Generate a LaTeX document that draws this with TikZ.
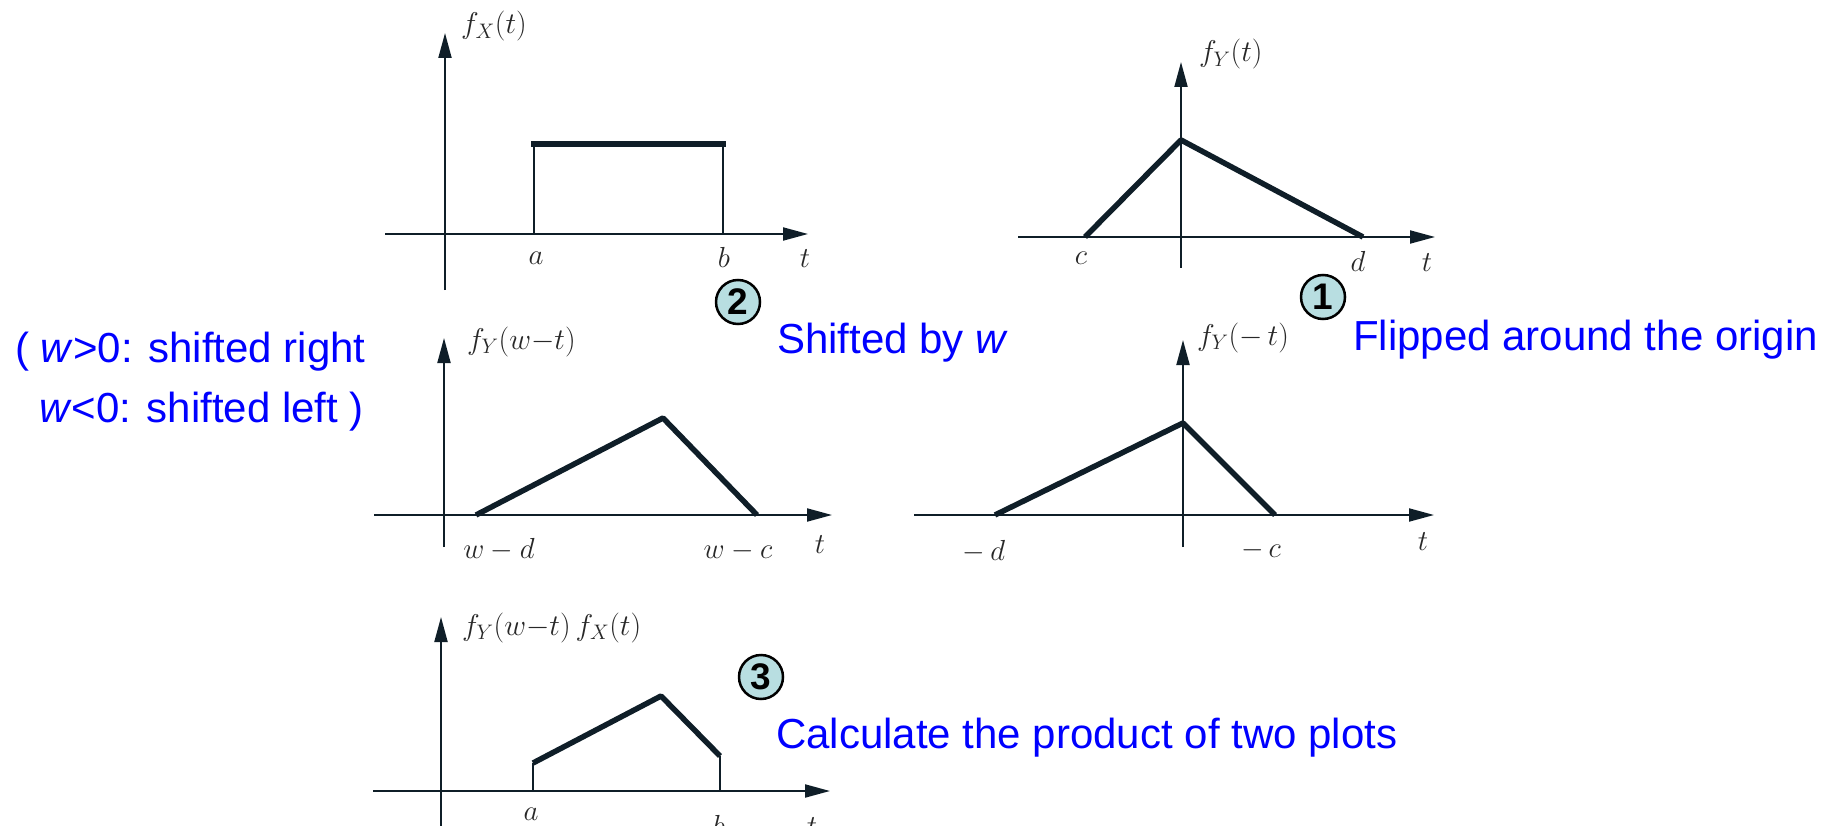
\RequirePackage{fix-cm}
\documentclass[tikz,border=0pt]{standalone}
\usepackage{fontspec}
\setmainfont{Liberation Sans}
\usetikzlibrary{arrows.meta}
\definecolor{ink}{RGB}{15,30,40}
\definecolor{lbl}{RGB}{40,40,40}
\definecolor{bluetxt}{RGB}{0,0,255}
\definecolor{circfill}{RGB}{184,222,225}
\begin{document}
\begin{tikzpicture}[x=1pt,y=-1pt,
  axis/.style={draw=ink,line width=2pt,-{Triangle[length=25pt,width=13pt]}},
  axline/.style={draw=ink,line width=2pt},
  plotline/.style={draw=ink,line width=5.5pt,line join=round},
  mlab/.style={inner sep=0,text=lbl,font=\fontsize{29}{35}\selectfont,anchor=base},
  flab/.style={inner sep=0,text=lbl,font=\fontsize{30}{36}\selectfont,anchor=base west},
  note/.style={inner sep=0,text=bluetxt,font=\fontsize{42}{50}\selectfont,anchor=base west},
  badge/.style={circle,draw=black,line width=2.5pt,fill=circfill,minimum size=44pt,inner sep=0,font=\fontsize{37}{37}\selectfont\bfseries}]
\useasboundingbox (0,0) rectangle (1838,826);

% ---------- panel 1: f_X(t)
\coordinate (p1xl) at (385,234); \coordinate (p1xr) at (808,234);
\coordinate (p1yb) at (445,290); \coordinate (p1yt) at (445,33);
\coordinate (p1a) at (534,234); \coordinate (p1at) at (534,144);
\coordinate (p1b) at (723,234); \coordinate (p1bt) at (723,144);
\draw[axis] (p1xl) -- (p1xr);
\draw[axis] (p1yb) -- (p1yt);
\draw[axline] (p1a) -- (p1at);
\draw[axline] (p1b) -- (p1bt);
\draw[plotline,line cap=rect] (p1at) -- (p1bt);
\node[flab] (l1f) at (461,34) {$f_X(t)$};
\node[mlab] (l1a) at (536,265) {$a$};
\node[mlab] (l1b) at (724,268) {$b$};
\node[mlab] (l1t) at (805,268) {$t$};

% ---------- panel 2: f_Y(t)
\coordinate (p2xl) at (1018,237); \coordinate (p2xr) at (1435,237);
\coordinate (p2yb) at (1181,268); \coordinate (p2yt) at (1181,62);
\coordinate (p2c) at (1085,237); \coordinate (p2pk) at (1181,140); \coordinate (p2d) at (1363,237);
\draw[axis] (p2xl) -- (p2xr);
\draw[axis] (p2yb) -- (p2yt);
\draw[plotline] (p2c) -- (p2pk) -- (p2d);
\node[flab] (l2f) at (1199,62) {$f_Y(t)$};
\node[mlab] (l2c) at (1081,265) {$c$};
\node[mlab] (l2d) at (1358,272) {$d$};
\node[mlab] (l2t) at (1427,272) {$t$};

% ---------- panel 3: f_Y(w-t)
\coordinate (p3xl) at (374,515); \coordinate (p3xr) at (832,515);
\coordinate (p3yb) at (444,547); \coordinate (p3yt) at (444,338);
\coordinate (p3l) at (476,515); \coordinate (p3pk) at (663,418); \coordinate (p3r) at (757,515);
\draw[axis] (p3xl) -- (p3xr);
\draw[axis] (p3yb) -- (p3yt);
\draw[plotline] (p3l) -- (p3pk) -- (p3r);
\node[flab] (l3f) at (467,349) {$f_Y(w{-}t)$};
\node[mlab] (l3wd) at (499,558) {$w-d$};
\node[mlab] (l3wc) at (738,558) {$w-c$};
\node[mlab] (l3t) at (820,553) {$t$};

% ---------- panel 4: f_Y(-t)
\coordinate (p4xl) at (914,515); \coordinate (p4xr) at (1434,515);
\coordinate (p4yb) at (1183,547); \coordinate (p4yt) at (1183,340);
\coordinate (p4l) at (995,515); \coordinate (p4pk) at (1183,423); \coordinate (p4r) at (1275,515);
\draw[axis] (p4xl) -- (p4xr);
\draw[axis] (p4yb) -- (p4yt);
\draw[plotline] (p4l) -- (p4pk) -- (p4r);
\node[flab] (l4f) at (1197,345) {$f_Y(-\,t)$};
\node[mlab] (l4d) at (984,560) {$-\,d$};
\node[mlab] (l4c) at (1261,557) {$-\,c$};
\node[mlab] (l4t) at (1423,550) {$t$};

% ---------- panel 5: product
\coordinate (p5xl) at (373,791); \coordinate (p5xr) at (830,791);
\coordinate (p5yb) at (441,830); \coordinate (p5yt) at (441,617);
\coordinate (p5a) at (533,791); \coordinate (p5at) at (533,763);
\coordinate (p5pk) at (661,696);
\coordinate (p5bt) at (720,756); \coordinate (p5b) at (720,791);
\draw[axis] (p5xl) -- (p5xr);
\draw[axis] (p5yb) -- (p5yt);
\draw[axline] (p5a) -- (p5at);
\draw[axline] (p5b) -- (p5bt);
\draw[plotline] (p5at) -- (p5pk) -- (p5bt);
\node[flab] (l5f) at (462,635) {$f_Y(w{-}t)\,f_X(t)$};
\node[mlab] (l5a) at (531,820) {$a$};
\node[mlab] (l5b) at (719,835) {$b$};
\node[mlab] (l5t) at (812,835) {$t$};

% ---------- step badges and notes
\node[badge] (s2) at (738,302) {2};
\node[badge] (s1) at (1323,297) {1};
\node[badge] (s3) at (761,677) {3};
\node[note] (n2) at (777,353) {Shifted by \textit{w}};
\node[note] (n1) at (1353,350) {Flipped around the origin};
\node[note] (n3) at (776,748) {Calculate the product of two plots};
\node[note] (nl1) at (15,362) {( \textit{w}>0: shifted right};
\node[note] (nl2) at (39,422) {\textit{w}<0: shifted left )};
\end{tikzpicture}
\end{document}
